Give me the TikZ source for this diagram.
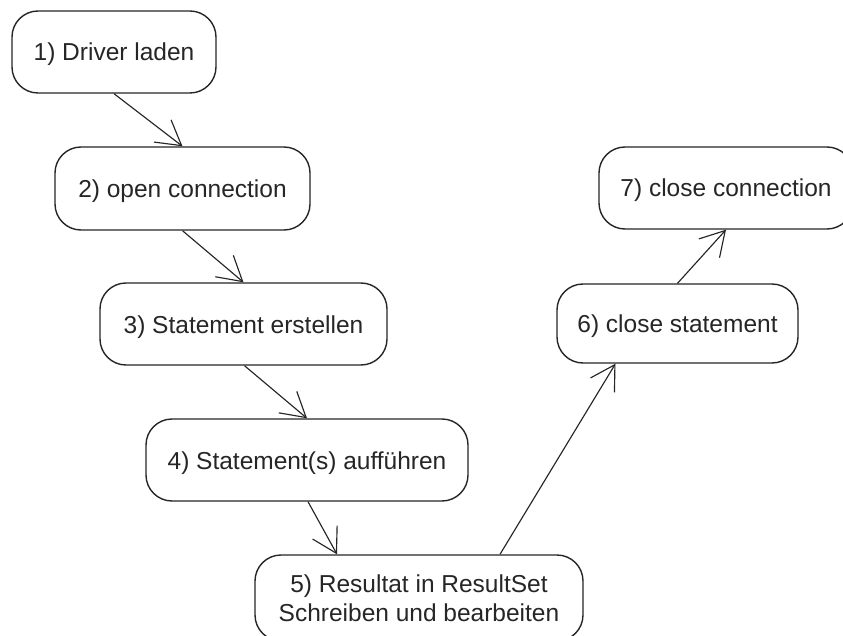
\documentclass[tikz,border=0pt]{standalone}
\usepackage{fontspec}
\setmainfont{Liberation Sans}
\usetikzlibrary{arrows.meta}
\begin{document}
\begin{tikzpicture}[x=1pt,y=-1pt,
  stepbox/.style={draw=black!85, line width=1.4pt, rounded corners=26pt, fill=white,
    inner sep=0pt, align=center, text=black!85, text height=18pt, text depth=0pt,
    font=\fontsize{24.5}{29}\selectfont},
  flow/.style={draw=black!85, line width=1.15pt, -{Straight Barb[length=24pt,width=28pt,line width=1.15pt]}}]
\useasboundingbox (0,0) rectangle (843,636);
\clip (0,0) rectangle (843,636);
\node[stepbox, minimum width=204pt, minimum height=82pt] (n1) at (114,52) {1) Driver laden};
\node[stepbox, minimum width=255pt, minimum height=83pt] (n2) at (182.5,188.5) {2) open connection};
\node[stepbox, minimum width=287pt, minimum height=82pt] (n3) at (243.5,324) {3) Statement erstellen};
\node[stepbox, minimum width=322pt, minimum height=82pt] (n4) at (307,460) {4) Statement(s) aufführen};
\node[stepbox, minimum width=328pt, minimum height=86pt, text height=47pt] (n5) at (419,598) {5) Resultat in ResultSet\\Schreiben und bearbeiten};
\node[stepbox, minimum width=241pt, minimum height=79pt] (n6) at (677.5,323.5) {6) close statement};
\node[stepbox, minimum width=254pt, minimum height=82pt] (n7) at (726,188) {7) close connection};
\draw[flow] (n1.south) -- (n2.north);
\draw[flow] (n2.south) -- (n3.north);
\draw[flow] ([xshift=1pt]n3.south) -- (n4.north);
\draw[flow] ([xshift=1pt]n4.south) -- ([xshift=-82pt]n5.north);
\draw[flow] ([xshift=81pt]n5.north) -- ([xshift=-62pt]n6.south);
\draw[flow] (n6.north) -- (n7.south);
\end{tikzpicture}
\end{document}
